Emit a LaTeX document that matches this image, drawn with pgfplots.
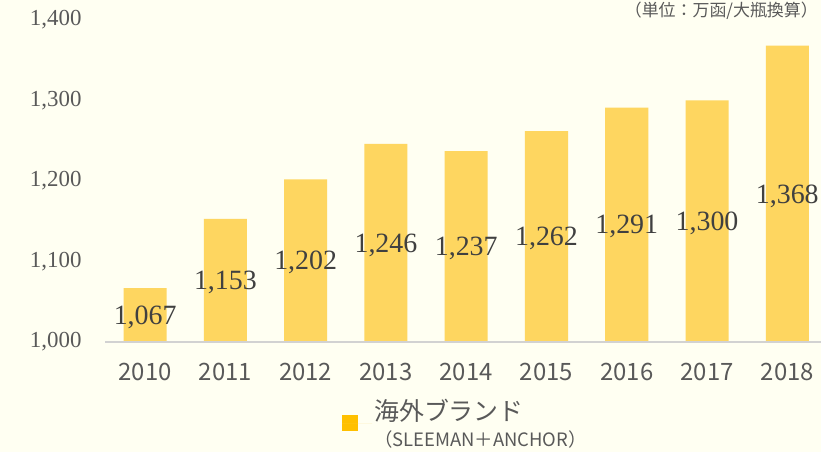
\documentclass[border=0pt]{standalone}
\usepackage{pgfplots}
\usepackage{pgfplotstable}
\pgfplotsset{compat=1.18}
\usepackage{fontspec}
\setmainfont{Liberation Serif}
\newfontfamily\jp{Noto Sans CJK JP}
\definecolor{bg}{RGB}{255,255,242}
\definecolor{barc}{RGB}{254,214,96}
\definecolor{lab}{RGB}{64,64,64}
\definecolor{tickc}{RGB}{89,89,89}
\definecolor{leg}{RGB}{255,192,0}
\pgfplotstableread{
x v
0 1067
1 1153
2 1202
3 1246
4 1237
5 1262
6 1291
7 1300
8 1368
}\datatable
\begin{document}
\begin{tikzpicture}[x=1bp,y=1bp]
\fill[bg] (0,0) rectangle (821,452);
\begin{axis}[
  at={(105bp,110bp)}, anchor=south west,
  scale only axis, width=716bp, height=322bp,
  xmin=-0.5, xmax=8.42, ymin=1000, ymax=1400,
  ytick={1000,1100,1200,1300,1400},
  xtick={0,1,2,3,4,5,6,7,8},
  xticklabels={2010,2011,2012,2013,2014,2015,2016,2017,2018},
  /pgf/number format/assume math mode=true,
  /pgf/number format/1000 sep={,},
  axis line style={draw=none},
  tick style={draw=none},
  yticklabel style={font=\fontsize{23}{23}\selectfont, text=tickc, xshift=-20bp},
  xticklabel style={font=\jp\fontsize{24}{24}\selectfont, text=tickc, yshift=-18bp},
  legend style={draw=none, fill=none, at={(0.331,-0.17)}, anchor=north west,
    cells={align=left}, text=tickc, inner sep=0pt},
  clip=false,
]
\addplot[ybar, bar width=0.536, fill=barc, draw=none,
  legend image code/.code={\fill[leg] (0bp,-8bp) rectangle (16bp,8bp); \path (0bp,0bp) -- (30bp,0bp);}]
  table[x=x, y=v] {\datatable};
\addlegendentry{{\jp\fontsize{25}{28}\selectfont 海外ブランド}\\[7bp]{\jp\fontsize{18.5}{20}\selectfont （SLEEMAN＋ANCHOR）}}
\addplot[draw=none, mark=none, forget plot, point meta=explicit,
  nodes near coords={\pgfmathprintnumber{\pgfplotspointmeta}},
  every node near coord/.append style={anchor=center, font=\fontsize{28}{28}\selectfont, text=lab, yshift=-2bp}]
  table[x=x, y expr=(\thisrow{v}+1000)/2, meta=v] {\datatable};
\draw[gray!35, line width=1.5bp] (rel axis cs:0,0) -- (rel axis cs:1,0);
\end{axis}
\node[anchor=north east, font=\jp\fontsize{17}{17}\selectfont, text=tickc, inner sep=1bp] at (819,451) {（単位：万函/大瓶換算）};
\pgfresetboundingbox
\useasboundingbox (0,0) rectangle (821,452);
\end{tikzpicture}
\end{document}
